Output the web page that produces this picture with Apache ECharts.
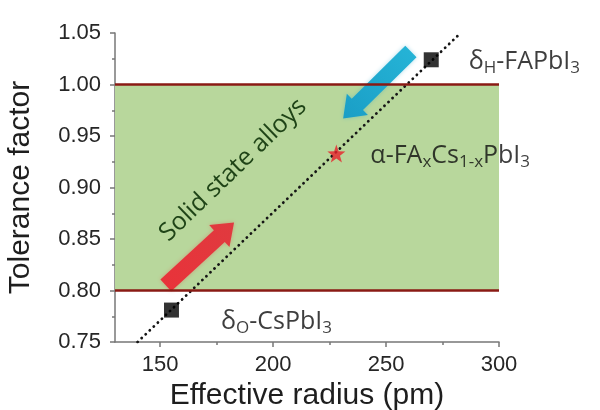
<!DOCTYPE html>
<html>
<head>
<meta charset="utf-8">
<script src="https://cdn.jsdelivr.net/npm/echarts@6/dist/echarts.min.js"></script>
<style>
  html, body { margin: 0; padding: 0; background: #fff; }
  #chart { width: 600px; height: 410px; }
</style>
</head>
<body>
<div id="chart"></div>
<script>
// Phases: [effective radius (pm), tolerance factor]
const csPbI3 = [155, 0.781];
const faPbI3 = [270, 1.024];
const alloy = [228, 0.933];

// Stability window of the tolerance factor
const windowLow = 0.80;
const windowHigh = 1.00;

// Trend line through the two end members
const trendLine = [[140, 0.75], [283, 1.05]];

// Arrows: [tail, tip]
const redArrow = [[152.5, 0.805], [182.7, 0.866]];
const blueArrow = [[261, 1.032], [231, 0.967]];

// Axis ticks
const xMajorTicks = [150, 200, 250, 300];
const xMinorTicks = [175, 225, 275];

// Five-pointed star symbol
function starPath() {
  const pts = [];
  for (let i = 0; i < 10; i++) {
    const r = i % 2 === 0 ? 50 : 20;
    const a = -Math.PI / 2 + i * Math.PI / 5;
    pts.push((50 + r * Math.cos(a)).toFixed(2) + ' ' + (52 + r * Math.sin(a)).toFixed(2));
  }
  return 'path://M' + pts.join(' L') + ' Z';
}

function arrowShape(p0, p1, shaftHalf, headHalf, headLen) {
  const dx = p1[0] - p0[0], dy = p1[1] - p0[1];
  const len = Math.sqrt(dx * dx + dy * dy);
  const ux = dx / len, uy = dy / len;
  const nx = -uy, ny = ux;
  const bx = p1[0] - ux * headLen, by = p1[1] - uy * headLen;
  return [
    [p0[0] + nx * shaftHalf, p0[1] + ny * shaftHalf],
    [bx + nx * shaftHalf, by + ny * shaftHalf],
    [bx + nx * headHalf, by + ny * headHalf],
    [p1[0], p1[1]],
    [bx - nx * headHalf, by - ny * headHalf],
    [bx - nx * shaftHalf, by - ny * shaftHalf],
    [p0[0] - nx * shaftHalf, p0[1] - ny * shaftHalf]
  ];
}

const labelFont = '"Open Sans", Lato, sans-serif';
const rich = {
  n: { fontSize: 25, fontFamily: labelFont, color: '#0d0d0d', lineHeight: 30 },
  s: { fontSize: 17, fontFamily: labelFont, color: '#0d0d0d', lineHeight: 30, padding: [13, 0, 0, 0] }
};

const chart = echarts.init(document.getElementById('chart'), null, { renderer: 'canvas' });

const axisFont = '"Liberation Sans", Arial, sans-serif';
const axisText = { color: '#262626', fontSize: 22, fontFamily: axisFont };

chart.setOption({
  animation: false,
  backgroundColor: '#fff',
  grid: { left: 115, right: 101, top: 33, bottom: 68, containLabel: false, outerBoundsMode: 'none' },
  xAxis: [
    {
      type: 'value', min: 130, max: 300,
      name: 'Effective radius (pm)', nameLocation: 'middle', nameGap: 36,
      nameTextStyle: { color: '#1e1e1e', fontSize: 30, fontFamily: axisFont },
      axisLine: { show: true, lineStyle: { color: '#777', width: 1.5 } },
      axisTick: { show: true, customValues: xMajorTicks, length: 5, lineStyle: { color: '#777', width: 1.5 } },
      axisLabel: Object.assign({ customValues: xMajorTicks, margin: 12 }, axisText),
      splitLine: { show: false }
    },
    {
      type: 'value', min: 130, max: 300, position: 'bottom', offset: 0,
      axisLine: { show: false },
      axisTick: { show: true, customValues: xMinorTicks, length: 3, lineStyle: { color: '#777', width: 1.5 } },
      axisLabel: { show: false },
      splitLine: { show: false }
    }
  ],
  yAxis: {
    type: 'value', min: 0.75, max: 1.05, interval: 0.05,
    name: 'Tolerance factor', nameLocation: 'middle', nameGap: 79,
    nameTextStyle: { color: '#1e1e1e', fontSize: 30, fontFamily: axisFont },
    axisLine: { show: true, lineStyle: { color: '#777', width: 1.5 } },
    axisTick: { show: true, length: 5, lineStyle: { color: '#777', width: 1.5 } },
    minorTick: { show: true, splitNumber: 2, length: 3, lineStyle: { color: '#777', width: 1.5 } },
    axisLabel: Object.assign({ margin: 14, formatter: v => v.toFixed(2) }, axisText),
    splitLine: { show: false }
  },
  series: [
    {
      // stability window
      type: 'line', data: [], silent: true,
      markArea: {
        silent: true,
        itemStyle: { color: '#b8d79c' },
        data: [[{ xAxis: 130, yAxis: windowHigh }, { xAxis: 300, yAxis: windowLow }]]
      },
      markLine: {
        silent: true, symbol: 'none', label: { show: false },
        lineStyle: { color: '#8a1a14', width: 2.5, type: 'solid' },
        data: [{ yAxis: windowLow }, { yAxis: windowHigh }]
      }
    },
    {
      type: 'line', data: trendLine, symbol: 'none', silent: true, z: 3,
      lineStyle: { color: '#151515', width: 2.8, type: [0.1, 5.5], cap: 'round' }
    },
    {
      type: 'custom', z: 4, silent: true,
      data: [0],
      renderItem: function (params, api) {
        const r0 = api.coord(redArrow[0]), r1 = api.coord(redArrow[1]);
        const b0 = api.coord(blueArrow[0]), b1 = api.coord(blueArrow[1]);
        const textCenter = api.coord([182.3, 0.917]);
        return {
          type: 'group',
          children: [
            {
              type: 'polygon',
              shape: { points: arrowShape(r0, r1, 8, 15, 20) },
              style: {
                fill: new echarts.graphic.LinearGradient(r0[0], r0[1], r1[0], r1[1], [
                  { offset: 0, color: '#e8333a' }, { offset: 1, color: '#e03a3f' }
                ], true),
                shadowBlur: 4, shadowColor: 'rgba(230,60,60,0.35)'
              }
            },
            {
              type: 'polygon',
              shape: { points: arrowShape(b0, b1, 8, 15, 20) },
              style: {
                fill: new echarts.graphic.LinearGradient(b0[0], b0[1], b1[0], b1[1], [
                  { offset: 0, color: '#25b3d6' }, { offset: 1, color: '#1a9ec6' }
                ], true),
                shadowBlur: 4, shadowColor: 'rgba(30,160,200,0.35)'
              }
            },
            {
              type: 'text',
              x: textCenter[0], y: textCenter[1],
              rotation: 44 * Math.PI / 180,
              style: {
                text: 'Solid state alloys',
                fill: '#1f4417',
                font: '25px ' + labelFont,
                align: 'center', verticalAlign: 'middle'
              }
            }
          ]
        };
      }
    },
    {
      type: 'scatter', z: 5, symbol: 'rect', symbolSize: 15,
      itemStyle: { color: '#000' },
      data: [
        {
          value: csPbI3,
          label: {
            show: true, position: 'right', distance: 42, offset: [0, 12],
            formatter: '{n|δ}{s|O}{n|-CsPbI}{s|3}', rich: rich
          }
        },
        {
          value: faPbI3,
          label: {
            show: true, position: 'right', distance: 30, offset: [0, 2],
            formatter: '{n|δ}{s|H}{n|-FAPbI}{s|3}', rich: rich
          }
        }
      ]
    },
    {
      type: 'scatter', z: 5, symbol: starPath(), symbolSize: 18,
      itemStyle: { color: '#e8202a' },
      data: [
        {
          value: alloy,
          label: {
            show: true, position: 'right', distance: 25, offset: [0, 2],
            formatter: '{n|α-FA}{s|x}{n|Cs}{s|1-x}{n|PbI}{s|3}', rich: rich
          }
        }
      ]
    }
  ]
});
</script>
</body>
</html>
